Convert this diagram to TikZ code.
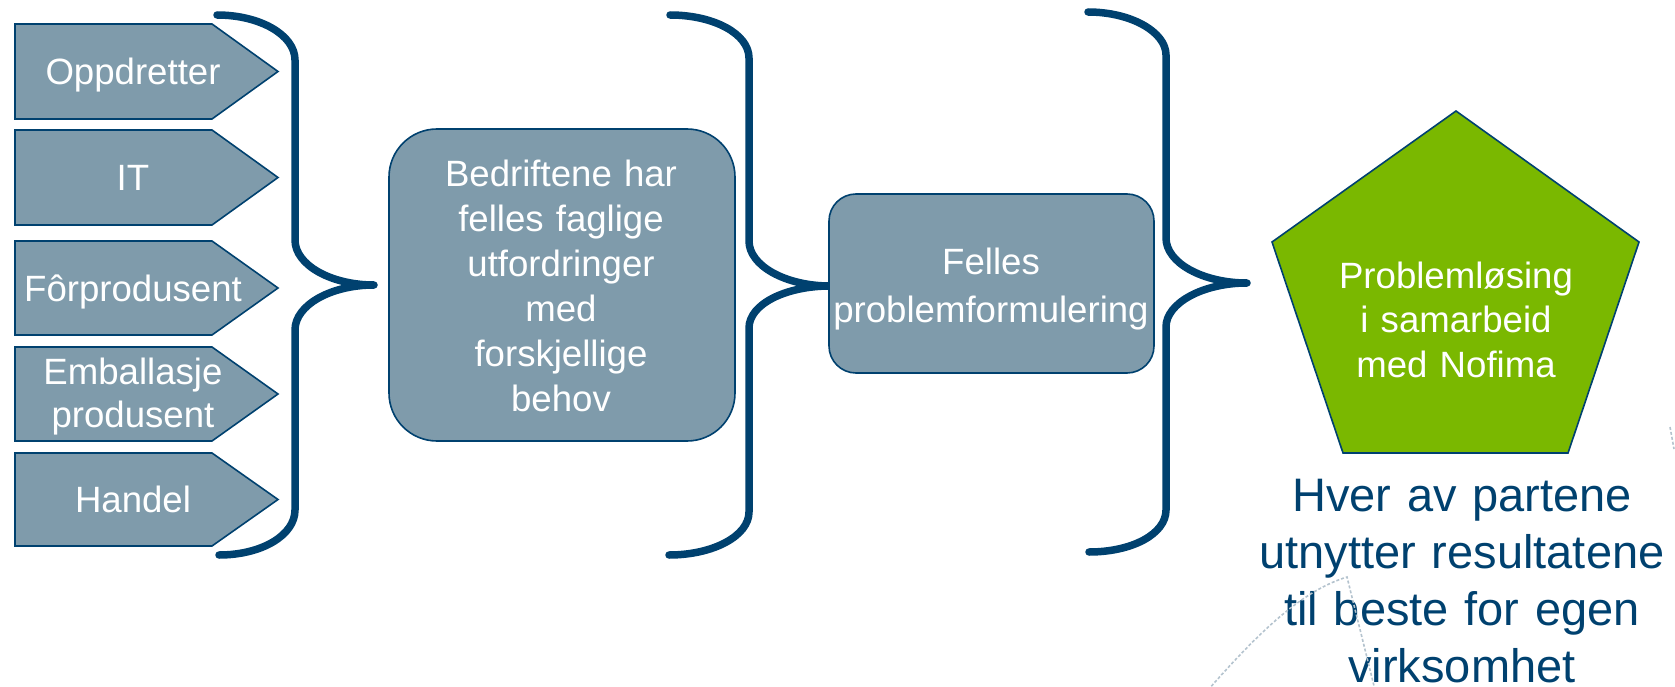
\documentclass[tikz,border=0pt]{standalone}
\usepackage{fontspec}
\setmainfont{Liberation Sans}
\definecolor{navy}{HTML}{00416F}
\definecolor{slate}{HTML}{7F9BAB}
\definecolor{leaf}{HTML}{7AB800}
\definecolor{ghost}{HTML}{B4C3CE}
\tikzset{
  shapebox/.style={draw=navy, line width=1.6pt, fill=slate},
  bracepath/.style={draw=navy, line width=7.5pt, line cap=round, line join=round},
  wlabel/.style={text=white, font=\fontsize{36.6}{44.8}\selectfont, align=center,
    anchor=base, inner sep=0pt, text width=#1},
  wlabel/.default=260pt,
  blabel/.style={text=navy, font=\fontsize{47}{57}\selectfont, align=center,
    anchor=base, inner sep=0pt, text width=480pt},
  ghostline/.style={draw=ghost, line width=1.6pt, densely dashed}
}
\newcommand\homeplate[3]{%
  \draw[shapebox] (15,#1) -- (212,#1) -- (278,{(#1+#2)/2}) -- (212,#2) -- (15,#2) -- cycle;
  \coordinate (#3) at (278,{(#1+#2)/2});
}
\begin{document}
\begin{tikzpicture}[x=1pt,y=-1pt]
\useasboundingbox (0,0) rectangle (1675,687);

% left arrows
\homeplate{24}{119}{a1tip}
\homeplate{130}{225}{a2tip}
\homeplate{241}{335}{a3tip}
\homeplate{347}{441}{a4tip}
\homeplate{453}{546}{a5tip}
\node[wlabel] (a1) at (133,85) {Oppdretter};
\node[wlabel] (a2) at (133,191) {IT};
\node[wlabel] (a3) at (133,301) {Fôrprodusent};
\node[wlabel, font=\fontsize{36.6}{43.5}\selectfont] (a4) at (133,384) {Emballasje\\produsent};
\node[wlabel] (a5) at (133,512) {Handel};

% brace 1
\coordinate (b1top) at (217,15);
\coordinate (b1mid) at (374,285);
\coordinate (b1bot) at (219,555);
\draw[bracepath] (b1top) .. controls (260,15) and (295,35) .. (295,60) -- (295,240)
  .. controls (295,265) and (331,285) .. (b1mid)
  .. controls (331,285) and (295,305) .. (295,330) -- (295,510)
  .. controls (295,535) and (262,555) .. (b1bot);

% box 1
\node[shapebox, rounded corners=48pt, minimum width=346pt, minimum height=312pt] (box1) at (562,285) {};
\node[wlabel=330pt] (box1txt) at (561,187) {Bedriftene har\\felles faglige\\utfordringer\\med\\forskjellige\\behov};

% brace 2
\coordinate (b2top) at (670,15);
\coordinate (b2mid) at (830,286);
\coordinate (b2bot) at (669,555);
\draw[bracepath] (b2top) .. controls (714,15) and (749,34) .. (749,58) -- (749,241)
  .. controls (749,266) and (786,286) .. (b2mid)
  .. controls (786,286) and (749,304) .. (749,328) -- (749,512)
  .. controls (749,536) and (713,555) .. (b2bot);

% box 2
\node[shapebox, rounded corners=27pt, minimum width=325pt, minimum height=179pt] (box2) at (991.5,283.5) {};
\node[wlabel=330pt, font=\fontsize{36.6}{48}\selectfont] (box2txt) at (991,274) {Felles\\problemformulering};

% brace 3
\coordinate (b3top) at (1088,12);
\coordinate (b3mid) at (1247,283);
\coordinate (b3bot) at (1089,552);
\draw[bracepath] (b3top) .. controls (1131,12) and (1166,32) .. (1166,55) -- (1166,238)
  .. controls (1166,263) and (1203,283) .. (b3mid)
  .. controls (1203,283) and (1166,303) .. (1166,327) -- (1166,510)
  .. controls (1166,534) and (1132,552) .. (b3bot);

% pentagon
\draw[draw=navy, line width=1.6pt, fill=leaf] (1456,111) -- (1639,242) -- (1568,453) -- (1343,453) -- (1272,242) -- cycle;
\node[wlabel=330pt] (penttxt) at (1456,288) {Problemløsing\\i samarbeid\\med Nofima};

% bottom text
\node[blabel] (result) at (1462,511) {Hver av partene\\utnytter resultatene\\til beste for egen\\virksomhet};

% faint leftover strokes
\draw[ghostline] (1208,690) .. controls (1265,625) and (1305,590) .. (1347,577) -- (1375,690);
\draw[ghostline] (1670,427) -- (1674,449);
\end{tikzpicture}
\end{document}
